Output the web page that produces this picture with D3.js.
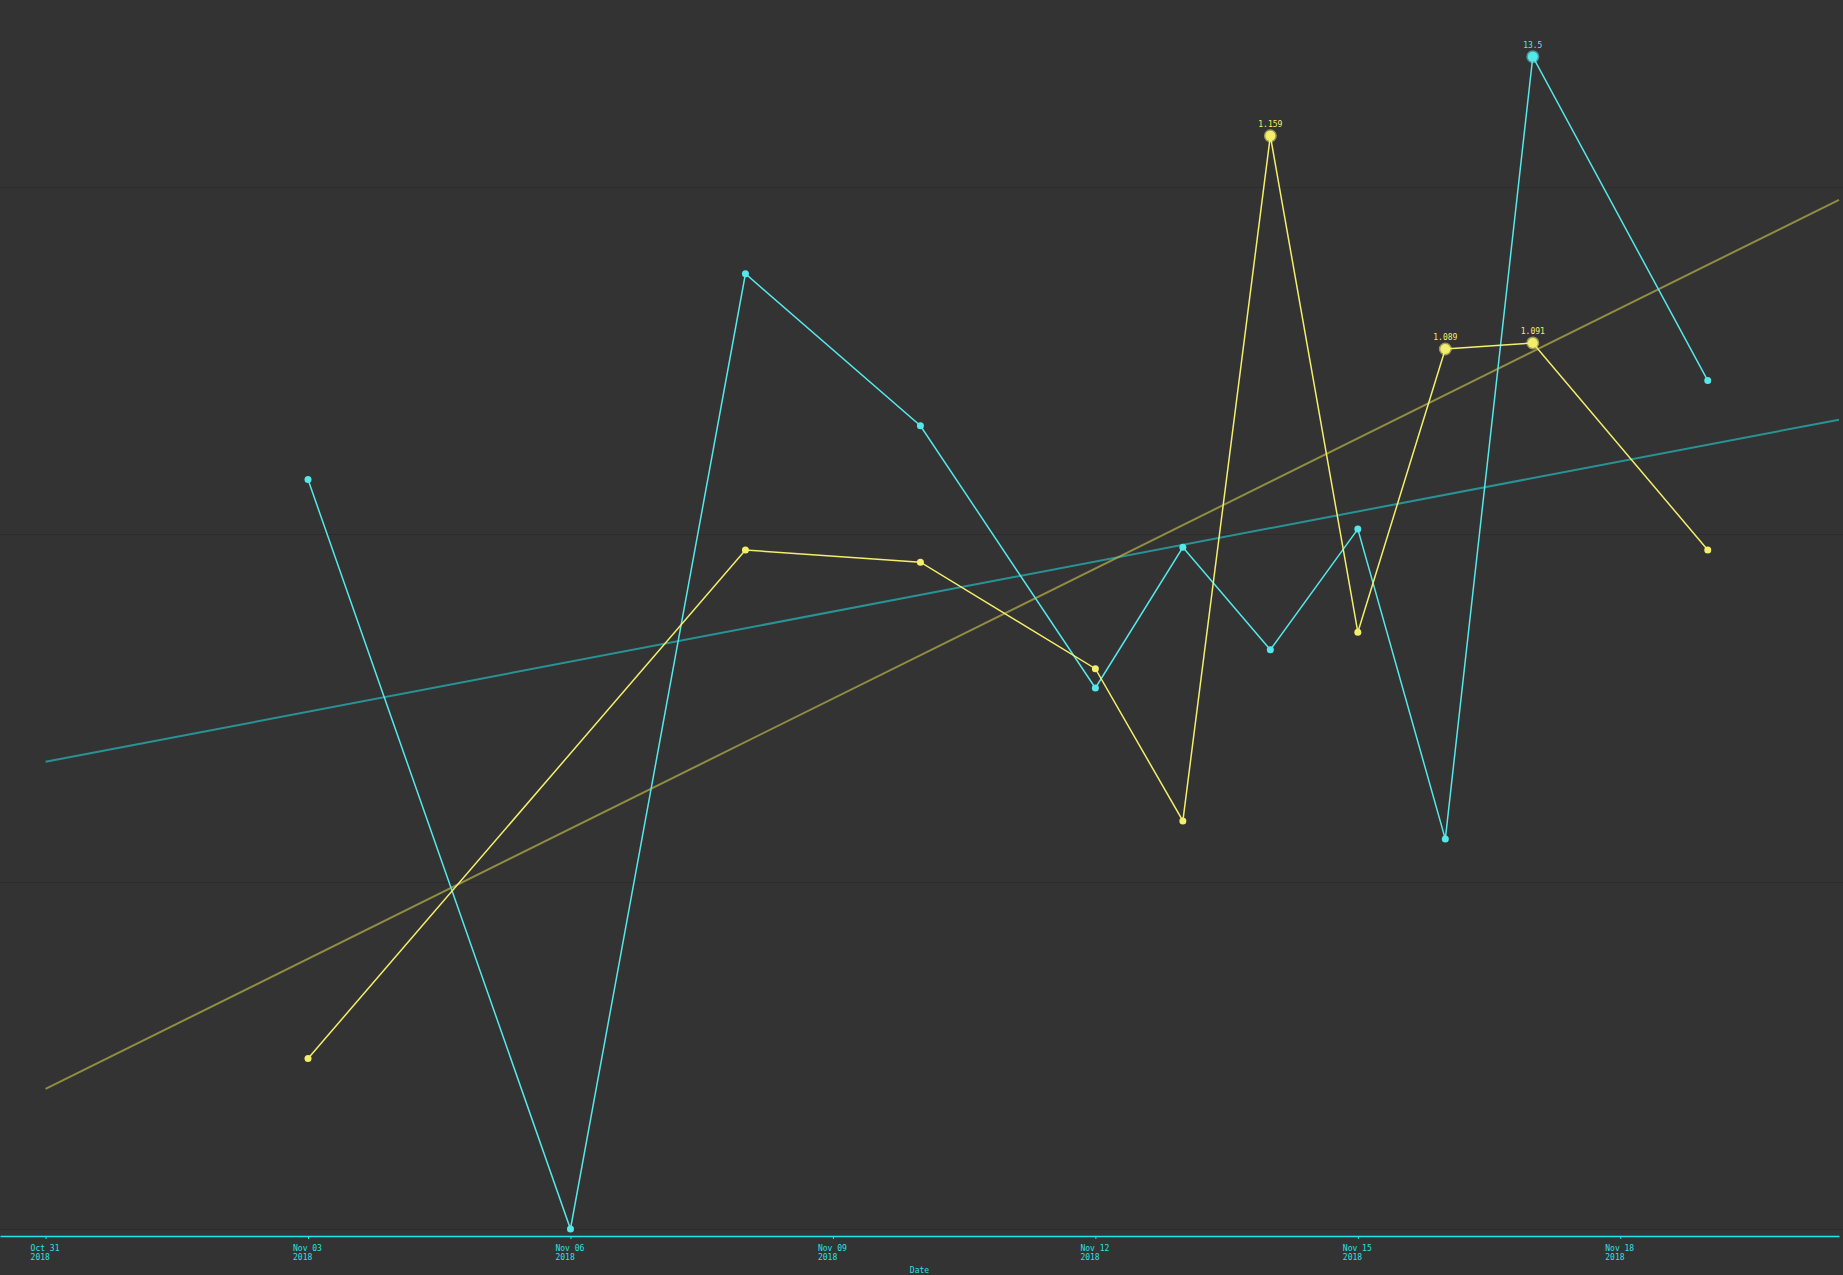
<!DOCTYPE html>
<meta charset="utf-8">
<style>
body { margin: 0; background: #333; }
svg { display: block; background: #333; }
text { font-family: "DejaVu Sans Mono", monospace; font-size: 8px; }
.grid line { stroke: #2c2c2c; stroke-width: 1; }
</style>
<svg width="1843" height="1275"></svg>
<script src="https://d3js.org/d3.v7.min.js"></script>
<script>
// readings per day (yellow has no reading on Nov 06)
var days = ["2018-11-03", "2018-11-06", "2018-11-08", "2018-11-10", "2018-11-12", "2018-11-13",
            "2018-11-14", "2018-11-15", "2018-11-16", "2018-11-17", "2018-11-19"];
var cyanValues = [8.63, 0, 11.0, 9.25, 6.23, 7.85, 6.67, 8.06, 4.49, 13.5, 9.77];
var yellowValues = [0.856, null, 1.023, 1.019, 0.984, 0.934, 1.159, 0.996, 1.089, 1.091, 1.023];

// labelled points
var cyanMarked = ["2018-11-17"];
var yellowMarked = ["2018-11-14", "2018-11-16", "2018-11-17"];

// trend lines, start and end
var trendDates = ["2018-10-31 00:00", "2018-11-20 12:00"];
var cyanTrend = [5.38, 9.32];
var yellowTrend = [0.846, 1.138];

var tickDates = ["2018-10-31", "2018-11-03", "2018-11-06", "2018-11-09", "2018-11-12", "2018-11-15", "2018-11-18"];
var gridValues = [0, 4, 8, 12];

var cyan = "#55e8ea",
    yellow = "#f3ee6b";

var parseDay = d3.timeParse("%Y-%m-%d"),
    parseTime = d3.timeParse("%Y-%m-%d %H:%M");

var svg = d3.select("svg"),
    width = +svg.attr("width"),
    height = +svg.attr("height");

var x = d3.scaleTime()
    .domain([parseTime("2018-10-30 11:30"), parseTime("2018-11-20 12:00")])
    .range([0, 1839]);

var yCyan = d3.scaleLinear().domain([0, 13.5]).range([1229, 56.7]);
var yYellow = d3.scaleLinear().domain([0.8, 1.185]).range([1229, 56.7]);

// grid
svg.append("g")
    .attr("class", "grid")
  .selectAll("line")
  .data(gridValues)
  .enter().append("line")
    .attr("x1", 0)
    .attr("x2", width)
    .attr("y1", function(d) { return Math.round(yCyan(d)) + 0.5; })
    .attr("y2", function(d) { return Math.round(yCyan(d)) + 0.5; });

// x axis
var axis = svg.append("g")
    .attr("transform", "translate(0,1236)")
    .call(d3.axisBottom(x)
      .tickValues(tickDates.map(parseDay))
      .tickSize(3)
      .tickSizeOuter(0)
      .tickFormat(""));

axis.select(".domain").attr("stroke", "#1de9ec").attr("stroke-width", 1.5);
axis.selectAll(".tick line").attr("stroke", "#1de9ec");

axis.selectAll(".tick").append("text")
    .attr("fill", "#2fe0e3")
    .attr("text-anchor", "start")
    .attr("x", -15.5)
    .attr("y", 15)
    .text(d3.timeFormat("%b %d"));
axis.selectAll(".tick").append("text")
    .attr("fill", "#2fe0e3")
    .attr("text-anchor", "start")
    .attr("x", -15.5)
    .attr("y", 24)
    .text(d3.timeFormat("%Y"));

svg.append("text")
    .attr("x", 919.5)
    .attr("y", 1273)
    .attr("fill", "#2fe0e3")
    .attr("text-anchor", "middle")
    .text("Date");

// trend lines
function drawTrend(vals, y, color, opacity) {
  svg.append("path")
    .datum(trendDates.map(function(d, i) { return [parseTime(d), vals[i]]; }))
    .attr("fill", "none")
    .attr("stroke", color)
    .attr("stroke-opacity", opacity)
    .attr("stroke-width", 2)
    .attr("d", d3.line()
      .x(function(d) { return x(d[0]); })
      .y(function(d) { return y(d[1]); }));
}
drawTrend(cyanTrend, yCyan, "#26b3b5", 0.75);
drawTrend(yellowTrend, yYellow, "#b8b44a", 0.7);

function drawSeries(vals, y, color, marked) {
  var data = days.map(function(d, i) { return { day: d, date: parseDay(d), value: vals[i] }; })
    .filter(function(d) { return d.value != null; });

  svg.append("path")
    .datum(data)
    .attr("fill", "none")
    .attr("stroke", color)
    .attr("stroke-width", 1.5)
    .attr("d", d3.line()
      .x(function(d) { return x(d.date); })
      .y(function(d) { return y(d.value); }));

  svg.append("g")
    .selectAll("circle")
    .data(data)
    .enter().append("circle")
      .attr("cx", function(d) { return x(d.date); })
      .attr("cy", function(d) { return y(d.value); })
      .attr("r", function(d) { return marked.indexOf(d.day) >= 0 ? 5 : 3.5; })
      .attr("fill", color)
      .attr("stroke", color)
      .attr("stroke-opacity", 0.55)
      .attr("stroke-width", function(d) { return marked.indexOf(d.day) >= 0 ? 3 : 0; });

  svg.append("g")
    .selectAll("text")
    .data(data.filter(function(d) { return marked.indexOf(d.day) >= 0; }))
    .enter().append("text")
      .attr("x", function(d) { return x(d.date); })
      .attr("y", function(d) { return y(d.value) - 9; })
      .attr("text-anchor", "middle")
      .attr("fill", color)
      .text(function(d) { return String(d.value); });
}

drawSeries(cyanValues, yCyan, cyan, cyanMarked);
drawSeries(yellowValues, yYellow, yellow, yellowMarked);
</script>
